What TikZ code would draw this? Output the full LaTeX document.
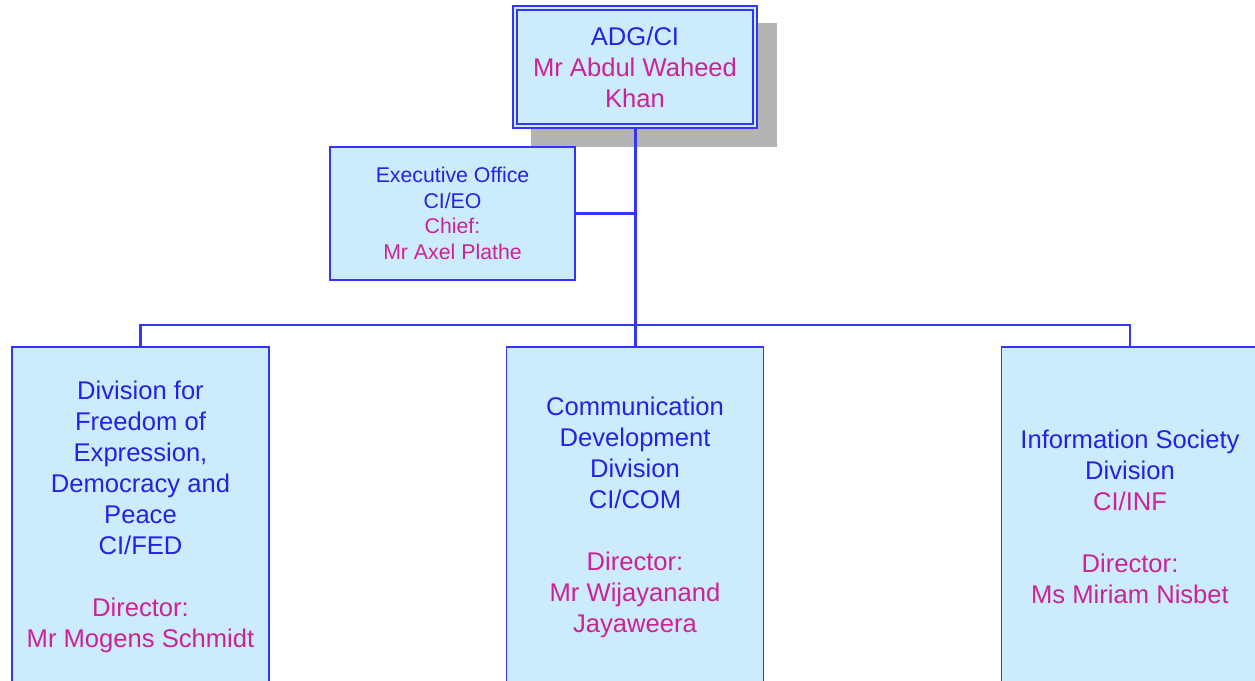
\documentclass[tikz,border=0pt]{standalone}
\usepackage{fontspec}
\setmainfont{Liberation Sans}
\definecolor{boxfill}{HTML}{CCEBFC}
\definecolor{boxline}{HTML}{3535F5}
\definecolor{txtblue}{HTML}{2323E3}
\definecolor{txtmag}{HTML}{CC2299}
\definecolor{shadowgray}{HTML}{B4B4B4}
\tikzset{
  orgbox/.style={draw=boxline, fill=boxfill, line width=1.6pt, align=center, inner sep=0pt, text=txtblue},
  bigtext/.style={font=\fontsize{25.6}{31}\selectfont},
  smalltext/.style={font=\fontsize{21.3}{25.5}\selectfont},
  link/.style={draw=boxline, line width=2.4pt},
  trunk/.style={draw=boxline, line width=3pt},
}
\begin{document}
\begin{tikzpicture}[x=1pt,y=-1pt]
\useasboundingbox (0,0) rectangle (1255,680);
\clip (0,0) rectangle (1255,680);
% shadow of top box
\fill[shadowgray] (531,23) rectangle (777,147);
% top box
\node[orgbox, bigtext, double=boxfill, double distance=2.2pt, line width=1.6pt,
      minimum width=240pt, minimum height=118pt] (top) at (635,67)
  {ADG/CI\\ \textcolor{txtmag}{Mr Abdul Waheed}\\ \textcolor{txtmag}{Khan}};
% executive office
\node[orgbox, smalltext, minimum width=245pt, minimum height=133pt] (exec) at (452.5,213.5)
  {Executive Office\\ CI/EO\\ \textcolor{txtmag}{Chief:}\\ \textcolor{txtmag}{Mr Axel Plathe}};
% divisions
\node[orgbox, bigtext, minimum width=257pt, minimum height=340pt] (fed) at (140.5,517)
  {Division for\\ Freedom of\\ Expression,\\ Democracy and\\ Peace\\ CI/FED\\[31pt]
   \textcolor{txtmag}{Director:}\\ \textcolor{txtmag}{Mr Mogens Schmidt}};
\node[orgbox, bigtext, minimum width=257pt, minimum height=340pt] (com) at (635,517)
  {Communication\\ Development\\ Division\\ CI/COM\\[31pt]
   \textcolor{txtmag}{Director:}\\ \textcolor{txtmag}{Mr Wijayanand}\\ \textcolor{txtmag}{Jayaweera}};
\node[orgbox, bigtext, minimum width=257pt, minimum height=340pt] (inf) at (1130,517)
  {Information Society\\ Division\\ \textcolor{txtmag}{CI/INF}\\[31pt]
   \textcolor{txtmag}{Director:}\\ \textcolor{txtmag}{Ms Miriam Nisbet}};
% connectors
\coordinate (bar) at (635,325);
\draw[link] (fed.north) |- (bar) -| (inf.north);
\draw[link] (exec.east) -- (exec.east -| top.south);
\draw[trunk] (top.south) -- (com.north);
\end{tikzpicture}
\end{document}
